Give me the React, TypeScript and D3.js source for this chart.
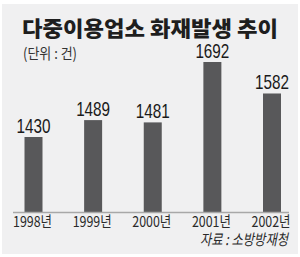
import React from "react";
import * as d3 from "d3";

const years = ["1998년", "1999년", "2000년", "2001년", "2002년"];
const values = [1430, 1489, 1481, 1692, 1582];
const title = "다중이용업소 화재발생 추이";
const unit = "(단위 : 건)";
const source = "자료 : 소방방재청";

export default function App() {
  const W = 300, H = 257;
  const x = d3.scalePoint<string>().domain(years).range([33.5, 272]);
  const y = d3.scaleLinear().domain([1168, 1692]).range([212, 62]);
  const bw = 18;
  const kr = "'Noto Sans CJK KR', sans-serif";
  const num = "'Liberation Sans', Arial, sans-serif";
  return (
    <div style={{ position: "fixed", left: 0, top: 0 }}>
      <svg width={W} height={H} style={{ display: "block" }}>
        <rect x={0} y={0} width={W} height={H} fill="#ffffff" />
        <rect x={2} y={4} width={296} height={250} fill="#f0f0f1" />
        <text x={22} y={35.5} fontFamily={kr} fontWeight={900} fontSize={21} fill="#1e1e1e"
          textLength={256} lengthAdjust="spacingAndGlyphs">{title}</text>
        <text x={23} y={59} fontFamily={kr} fontSize={15} fill="#333"
          textLength={54} lengthAdjust="spacingAndGlyphs">{unit}</text>
        {values.map((v, i) => {
          const cx = x(years[i])!;
          return (
            <g key={years[i]}>
              <rect x={cx - bw / 2} y={y(v)} width={bw} height={y.range()[0] - y(v)} fill="#58585a" />
              <text x={cx} y={y(v) - 4} textAnchor="middle" fontFamily={num} fontSize={21} fill="#1a1a1a"
                textLength={34} lengthAdjust="spacingAndGlyphs">{v}</text>
              <text x={cx - 1} y={226.5} textAnchor="middle" fontFamily={kr} fontSize={15} fill="#2a2a2a"
                textLength={39} lengthAdjust="spacingAndGlyphs">{years[i]}</text>
            </g>
          );
        })}
        <line x1={13} x2={289} y1={212.5} y2={212.5} stroke="#a8a8a8" strokeWidth={1.5} />
        <text x={288} y={245} textAnchor="end" fontFamily={kr} fontStyle="italic" fontSize={15} fill="#2a2a2a"
          textLength={88} lengthAdjust="spacingAndGlyphs">{source}</text>
      </svg>
    </div>
  );
}
